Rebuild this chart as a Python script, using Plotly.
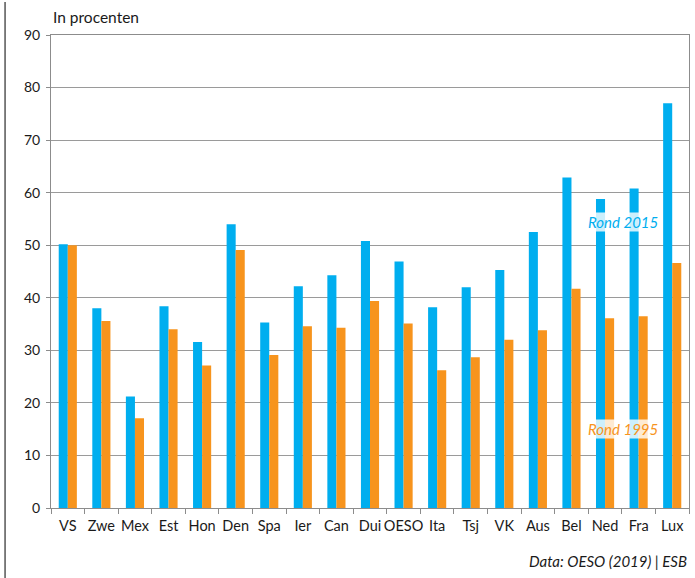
import plotly.graph_objects as go

categories = ["VS", "Zwe", "Mex", "Est", "Hon", "Den", "Spa", "Ier", "Can", "Dui",
              "OESO", "Ita", "Tsj", "VK", "Aus", "Bel", "Ned", "Fra", "Lux"]
rond_2015 = [50.2, 38.0, 21.2, 38.4, 31.6, 54.0, 35.3, 42.2, 44.3, 50.8,
             46.9, 38.2, 42.0, 45.3, 52.5, 62.9, 58.8, 60.8, 77.0]
rond_1995 = [50.0, 35.6, 17.1, 34.0, 27.1, 49.1, 29.1, 34.6, 34.3, 39.4,
             35.1, 26.2, 28.7, 32.0, 33.8, 41.7, 36.1, 36.5, 46.6]
y_ticks = [0, 10, 20, 30, 40, 50, 60, 70, 80, 90]

BLUE = "#00AEEF"
ORANGE = "#F7941D"
FONT = "Lato"

fig = go.Figure()
fig.add_trace(go.Bar(x=categories, y=rond_2015, name="Rond 2015",
                     marker=dict(color=BLUE, line=dict(width=0))))
fig.add_trace(go.Bar(x=categories, y=rond_1995, name="Rond 1995",
                     marker=dict(color=ORANGE, line=dict(width=0))))

fig.update_layout(
    width=695, height=578,
    margin=dict(l=51, r=6, t=35, b=70, autoexpand=False),
    paper_bgcolor="white", plot_bgcolor="white",
    barmode="group", bargap=0.46, bargroupgap=0,
    showlegend=False,
    font=dict(family=FONT, size=14, color="#1a1a1a"),
)
fig.update_xaxes(
    type="category", showgrid=False, automargin=False, tickangle=0,
    showline=True, linecolor="#8c8c8c", linewidth=1, mirror=True,
    ticks="outside", tickson="boundaries", ticklen=5, tickcolor="#8c8c8c",
    ticklabelstandoff=5,
    tickfont=dict(family=FONT, size=14.5, color="#1a1a1a"),
)
fig.update_yaxes(
    range=[0, 90], tickvals=y_ticks, automargin=False,
    showgrid=True, gridcolor="#9a9a9a", gridwidth=1,
    showline=True, linecolor="#8c8c8c", linewidth=1, mirror=True,
    ticks="outside", ticklen=4, tickcolor="#8c8c8c",
    ticklabelstandoff=3,
    tickfont=dict(family=FONT, size=14, color="#1a1a1a"),
    zeroline=False,
)

fig.add_annotation(text="In procenten", xref="paper", yref="paper", x=0, y=1,
                   xanchor="left", yanchor="bottom", yshift=7, showarrow=False,
                   font=dict(family=FONT, size=15.5, color="#1a1a1a"))
fig.add_annotation(text="<i>Data: OESO (2019) | ESB</i>", xref="paper", yref="paper",
                   x=1, y=0, xanchor="right", yanchor="top", yshift=-42,
                   showarrow=False, font=dict(family=FONT, size=15, color="#1a1a1a"))
fig.add_annotation(text="<i>Rond 2015</i>", x="Ned", y=54.5, xshift=18, showarrow=False,
                   bgcolor="rgba(255,255,255,0.8)", borderpad=0,
                   font=dict(family=FONT, size=15, color=BLUE))
fig.add_annotation(text="<i>Rond 1995</i>", x="Ned", y=15, xshift=18, showarrow=False,
                   bgcolor="rgba(255,255,255,0.8)", borderpad=0,
                   font=dict(family=FONT, size=15, color=ORANGE))
# left page border line
fig.add_shape(type="line", xref="paper", yref="paper", x0=-0.072, x1=-0.072,
              y0=-0.15, y1=1.07, line=dict(color="#555555", width=1.5))

fig.write_html("out.html", config={"displayModeBar": False},
               post_script="document.body.style.margin='0';")
